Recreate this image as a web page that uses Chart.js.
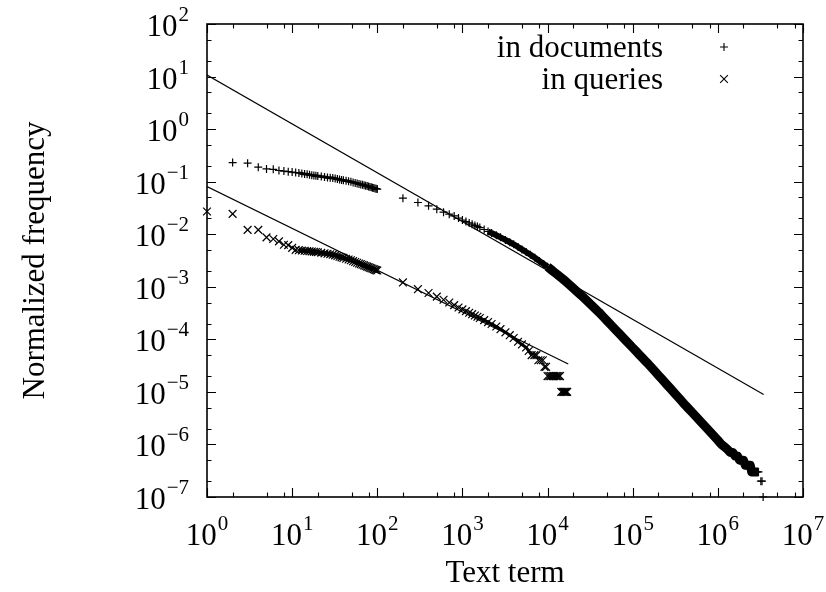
<!DOCTYPE html>
<html>
<head>
<meta charset="utf-8">
<script src="https://cdn.jsdelivr.net/npm/chart.js@4.4.1/dist/chart.umd.min.js"></script>
<style>
  html, body { margin: 0; padding: 0; background: #fff; }
  #chart { display: block; }
</style>
</head>
<body>
<canvas id="chart" width="826" height="592"></canvas>
<script>
// Term rank vs. normalized frequency, documents
const docRanks = [
    2, 3, 4, 5, 6, 7, 8, 9, 10, 11, 12, 13, 14, 15, 16, 17, 18, 19, 20,
    22, 24, 26, 28, 30, 32, 34, 36, 38, 40, 43, 46, 49, 52, 55, 58, 61, 64, 67, 70,
    73, 76, 79, 82, 85, 88, 91, 94, 97, 100,
    200, 300, 400, 500, 600, 700, 800, 900,
    1000, 1100, 1200, 1300, 1400, 1500, 1600, 1800, 2000, 2200, 2500, 2800, 3200, 3600,
    4000, 4500, 5000, 5600, 6300, 7100, 8000, 9000,
    1e4, 1.1e4, 1.2e4, 1.3e4, 1.4e4, 1.5e4, 1.6e4, 1.8e4, 2e4, 2.2e4, 2.5e4, 2.8e4, 3.2e4, 3.6e4,
    4e4, 4.5e4, 5e4, 5.6e4, 6.3e4, 7.1e4, 8e4, 9e4,
    1e5, 1.1e5, 1.2e5, 1.3e5, 1.4e5, 1.5e5, 1.6e5, 1.8e5, 2e5, 2.2e5, 2.5e5, 2.8e5, 3.2e5, 3.6e5,
    4e5, 4.5e5, 5e5, 5.6e5, 6.3e5, 7.1e5, 8e5, 9e5,
    1e6, 1.1e6, 1.2e6, 1.3e6, 1.4e6, 1.5e6, 1.6e6, 1.7e6, 1.8e6, 1.9e6, 2e6, 2.1e6, 2.2e6, 2.3e6,
    2.4e6, 2.5e6, 2.6e6, 2.7e6, 2.8e6, 2.9e6, 3e6, 3.2e6, 3.3e6, 3.4e6
];
const docFreqs = [
    0.231, 0.225, 0.189, 0.175, 0.172, 0.163, 0.159, 0.155, 0.152, 0.149, 0.146, 0.143, 0.140, 0.138, 0.136, 0.133, 0.131, 0.129, 0.128,
    0.125, 0.123, 0.120, 0.119, 0.117, 0.115, 0.112, 0.110, 0.108, 0.106, 0.104, 0.102, 0.0993, 0.0968, 0.0946, 0.0925, 0.0906, 0.0888, 0.0871, 0.0855,
    0.0839, 0.0824, 0.0807, 0.0793, 0.078, 0.0767, 0.0755, 0.0745, 0.0735, 0.0724,
    0.0485, 0.0401, 0.0347, 0.030, 0.0263, 0.0241, 0.0223, 0.0203,
    1.86e-2, 1.74e-2, 1.64e-2, 1.55e-2, 1.47e-2, 1.40e-2, 1.34e-2, 1.23e-2, 1.13e-2, 1.05e-2, 9.57e-3, 8.71e-3, 7.78e-3, 7.03e-3,
    6.43e-3, 5.71e-3, 5.14e-3, 4.59e-3, 4.08e-3, 3.56e-3, 3.10e-3, 2.71e-3,
    2.40e-3, 2.12e-3, 1.89e-3, 1.71e-3, 1.55e-3, 1.42e-3, 1.30e-3, 1.10e-3, 9.42e-4, 8.20e-4, 6.81e-4, 5.71e-4, 4.65e-4, 3.87e-4,
    3.29e-4, 2.69e-4, 2.25e-4, 1.85e-4, 1.52e-4, 1.24e-4, 1.01e-4, 8.28e-5,
    6.92e-5, 5.89e-5, 5.08e-5, 4.43e-5, 3.91e-5, 3.48e-5, 3.11e-5, 2.52e-5, 2.08e-5, 1.75e-5, 1.39e-5, 1.14e-5, 8.93e-6, 7.23e-6,
    5.97e-6, 4.86e-6, 4.05e-6, 3.32e-6, 2.70e-6, 2.19e-6, 1.78e-6, 1.45e-6,
    1.2e-6, 1.0e-6, 9e-7, 8e-7, 7e-7, 7e-7, 6e-7, 6e-7, 5e-7, 5e-7, 5e-7, 4e-7, 4e-7, 4e-7,
    4e-7, 3e-7, 3e-7, 3e-7, 3e-7, 3e-7, 3e-7, 2e-7, 2e-7, 1e-7
];

// Term rank vs. normalized frequency, queries
const queryRanks = [
    1, 2, 3, 4, 5, 6, 7, 8, 9, 10, 11, 12, 13, 14, 15, 16, 17, 18, 19, 20,
    22, 24, 26, 28, 30, 32, 34, 36, 38, 40, 43, 46, 49, 52, 55, 58, 61, 64, 67, 70,
    73, 76, 79, 82, 85, 88, 91, 94, 97, 100,
    200, 300, 400, 500, 600, 700, 800, 900,
    1000, 1100, 1200, 1300, 1400, 1500, 1600, 1800, 2000, 2200, 2500, 2800, 3200, 3600,
    4000, 4500, 5000, 5600, 6000, 6500, 7000, 7400, 7800, 8300, 8800, 9200, 9600,
    10000, 10500, 11000, 11500, 12000, 12500, 13000, 13500, 14000,
    14500, 15000, 15500, 16000, 16500, 17000
];
const queryFreqs = [
    0.027, 0.0244, 0.0121, 0.0121, 0.0087, 0.0081, 0.0073, 0.0063, 0.0062, 0.0055,
    5.04e-3, 4.97e-3, 4.90e-3, 4.84e-3, 4.79e-3, 4.73e-3, 4.69e-3, 4.65e-3, 4.59e-3, 4.54e-3,
    4.44e-3, 4.33e-3, 4.24e-3, 4.16e-3, 4.08e-3, 3.96e-3, 3.85e-3, 3.73e-3, 3.63e-3, 3.54e-3,
    3.42e-3, 3.30e-3, 3.19e-3, 3.07e-3, 2.96e-3, 2.87e-3, 2.78e-3, 2.70e-3, 2.62e-3, 2.55e-3,
    2.48e-3, 2.42e-3, 2.36e-3, 2.30e-3, 2.25e-3, 2.20e-3, 2.15e-3, 2.11e-3, 2.07e-3, 2.04e-3,
    1.21e-3, 9.0e-4, 7.6e-4, 6.5e-4, 5.66e-4, 5.01e-4, 4.47e-4, 4.03e-4,
    3.72e-4, 3.44e-4, 3.21e-4, 3.01e-4, 2.84e-4, 2.69e-4, 2.55e-4, 2.32e-4, 2.13e-4, 1.96e-4, 1.75e-4, 1.56e-4, 1.36e-4, 1.20e-4,
    1.06e-4, 9e-5, 8e-5, 7e-5, 6e-5, 5e-5, 5e-5, 5e-5, 4e-5, 4e-5, 4e-5, 3e-5, 3e-5,
    2e-5, 2e-5, 2e-5, 2e-5, 2e-5, 2e-5, 2e-5, 2e-5, 2e-5,
    1e-5, 1e-5, 1e-5, 1e-5, 1e-5, 1e-5
];

// Power-law fit lines (end points)
const docFitRanks = [1, 3.45e6];
const docFitFreqs = [10.7, 8.9e-6];
const queryFitRanks = [1, 17500];
const queryFitFreqs = [0.081, 3.4e-5];

// Axis decades and minor tick mantissas
const xTickExps = [0, 1, 2, 3, 4, 5, 6, 7];
const yTickExps = [-7, -6, -5, -4, -3, -2, -1, 0, 1, 2];
const xMinor = [2, 5, 8];
const yMinor = [2, 5];

const seriesNames = ['in documents', 'in queries'];
const xTitle = 'Text term';
const yTitle = 'Normalized frequency';

const FONT = '"Liberation Serif", "Times New Roman", serif';
const BIG = 31;
const SUP = 21;

const toPoints = (xs, ys) => xs.map((x, i) => ({ x: x, y: ys[i] }));

// "10" with a raised exponent
function drawPower(ctx, exp, x, y, align) {
    const sup = exp < 0 ? '\u2212' + (-exp) : String(exp);
    ctx.font = BIG + 'px ' + FONT;
    const wb = ctx.measureText('10').width;
    ctx.font = SUP + 'px ' + FONT;
    const ws = ctx.measureText(sup).width;
    const total = wb + 1 + ws;
    const left = align === 'right' ? x - total : x - total / 2;
    ctx.textAlign = 'left';
    ctx.textBaseline = 'alphabetic';
    ctx.font = BIG + 'px ' + FONT;
    ctx.fillText('10', left, y);
    ctx.font = SUP + 'px ' + FONT;
    ctx.fillText(sup, left + wb + 1, y - 15);
}

const gnuplotFrame = {
    id: 'gnuplotFrame',
    afterDraw(chart) {
        const ctx = chart.ctx;
        const a = chart.chartArea;
        const xs = chart.scales.x;
        const ys = chart.scales.y;
        ctx.save();
        ctx.strokeStyle = '#000';
        ctx.fillStyle = '#000';

        // border
        ctx.lineWidth = 1.6;
        ctx.strokeRect(a.left, a.top, a.right - a.left, a.bottom - a.top);

        // ticks, pointing inwards on all four sides
        ctx.lineWidth = 1.1;
        ctx.beginPath();
        xTickExps.forEach(e => {
            const px = Math.round(xs.getPixelForValue(Math.pow(10, e))) + 0.5;
            ctx.moveTo(px, a.bottom); ctx.lineTo(px, a.bottom - 9);
            ctx.moveTo(px, a.top); ctx.lineTo(px, a.top + 9);
            if (e < 7) {
                xMinor.forEach(m => {
                    const mx = Math.round(xs.getPixelForValue(m * Math.pow(10, e))) + 0.5;
                    ctx.moveTo(mx, a.bottom); ctx.lineTo(mx, a.bottom - 4.5);
                    ctx.moveTo(mx, a.top); ctx.lineTo(mx, a.top + 4.5);
                });
            }
        });
        yTickExps.forEach(e => {
            const py = Math.round(ys.getPixelForValue(Math.pow(10, e))) + 0.5;
            ctx.moveTo(a.left, py); ctx.lineTo(a.left + 9, py);
            ctx.moveTo(a.right, py); ctx.lineTo(a.right - 9, py);
            if (e < 2) {
                yMinor.forEach(m => {
                    const my = Math.round(ys.getPixelForValue(m * Math.pow(10, e))) + 0.5;
                    ctx.moveTo(a.left, my); ctx.lineTo(a.left + 4.5, my);
                    ctx.moveTo(a.right, my); ctx.lineTo(a.right - 4.5, my);
                });
            }
        });
        ctx.stroke();

        // tick labels
        xTickExps.forEach(e => {
            drawPower(ctx, e, xs.getPixelForValue(Math.pow(10, e)), a.bottom + 48, 'center');
        });
        yTickExps.forEach(e => {
            drawPower(ctx, e, a.left - 18, ys.getPixelForValue(Math.pow(10, e)) + 12, 'right');
        });

        // axis titles
        ctx.font = BIG + 'px ' + FONT;
        ctx.textAlign = 'center';
        ctx.textBaseline = 'alphabetic';
        ctx.fillText(xTitle, (a.left + a.right) / 2, 582);
        ctx.save();
        ctx.translate(44, (a.top + a.bottom) / 2);
        ctx.rotate(-Math.PI / 2);
        ctx.fillText(yTitle, 0, 0);
        ctx.restore();

        // key, top right
        ctx.textAlign = 'right';
        chart.data.datasets.slice(0, 2).forEach((ds, i) => {
            const y = 47 + i * 32;
            ctx.font = BIG + 'px ' + FONT;
            ctx.fillText(seriesNames[i], 663, y + 10);
            Chart.helpers.drawPoint(ctx, {
                pointStyle: ds.pointStyle,
                radius: ds.pointRadius,
                borderWidth: ds.pointBorderWidth,
                rotation: 0
            }, 724, y);
        });
        ctx.restore();
    }
};

const clear = 'rgba(0,0,0,0)';

// where the markers sit closer than a pixel apart they merge into a solid band
const docBand = c => (c.p0.parsed.x >= 12 && c.p1.parsed.x <= 100) ||
                     (c.p0.parsed.x >= 2000 && c.p1.parsed.y >= 3e-7);
const queryBand = c => (c.p0.parsed.x >= 12 && c.p1.parsed.x <= 100) ||
                       (c.p0.parsed.x >= 1500 && c.p1.parsed.x <= 6500);

new Chart(document.getElementById('chart'), {
    type: 'scatter',
    data: {
        datasets: [
            {
                label: seriesNames[0],
                data: toPoints(docRanks, docFreqs),
                pointStyle: 'cross',
                pointRadius: 4,
                pointBorderWidth: 1.2,
                pointBorderColor: '#000',
                pointBackgroundColor: '#000',
                showLine: true,
                borderColor: '#000',
                borderWidth: 7,
                borderJoinStyle: 'round',
                segment: {
                    borderColor: c => docBand(c) ? '#000' : clear,
                    borderWidth: c => c.p0.parsed.x >= 1e4 ? 9 : (c.p0.parsed.x >= 2000 ? 6 : 3)
                },
                clip: false
            },
            {
                label: seriesNames[1],
                data: toPoints(queryRanks, queryFreqs),
                pointStyle: 'crossRot',
                pointRadius: 5.5,
                pointBorderWidth: 1.2,
                pointBorderColor: '#000',
                pointBackgroundColor: '#000',
                showLine: true,
                borderColor: '#000',
                borderWidth: 3,
                borderJoinStyle: 'round',
                segment: {
                    borderColor: c => queryBand(c) ? '#000' : clear,
                    borderWidth: c => c.p1.parsed.x <= 100 ? 4 : 3
                },
                clip: false
            },
            {
                label: 'documents fit',
                data: toPoints(docFitRanks, docFitFreqs),
                showLine: true,
                pointRadius: 0,
                borderWidth: 1.2,
                borderColor: '#000'
            },
            {
                label: 'queries fit',
                data: toPoints(queryFitRanks, queryFitFreqs),
                showLine: true,
                pointRadius: 0,
                borderWidth: 1.2,
                borderColor: '#000'
            }
        ]
    },
    options: {
        responsive: false,
        animation: false,
        devicePixelRatio: 1,
        layout: {
            padding: { left: 207, right: 23, top: 24, bottom: 95 }
        },
        plugins: {
            legend: { display: false },
            tooltip: { enabled: false }
        },
        scales: {
            x: { type: 'logarithmic', min: 1, max: 1e7, display: false },
            y: { type: 'logarithmic', min: 1e-7, max: 1e2, display: false }
        }
    },
    plugins: [gnuplotFrame]
});
</script>
</body>
</html>
